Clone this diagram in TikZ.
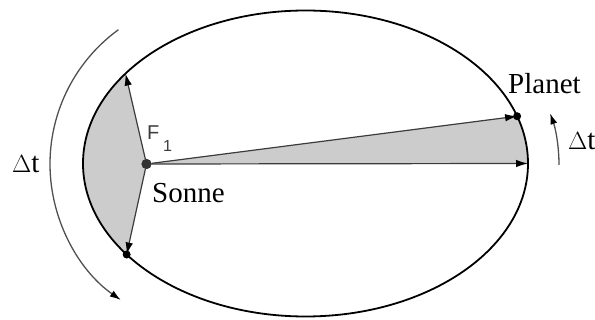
\documentclass[tikz,border=0pt]{standalone}
\usepackage{fontspec}
\setmainfont{Liberation Serif}
\newfontfamily\labelsans{Liberation Sans}
\usetikzlibrary{arrows.meta,calc}
\definecolor{sectorgray}{RGB}{204,204,204}
\definecolor{ray}{RGB}{60,60,60}
\definecolor{sunc}{RGB}{50,50,50}
\definecolor{arcc}{RGB}{80,80,80}
\tikzset{
  orbit/.style={line width=1.8pt,black},
  rayarrow/.style={line width=1.2pt,ray,-{Latex[length=12pt,width=7.5pt,color=black]}},
  timearrow/.style={line width=1.3pt,arcc,-{Latex[length=11pt,width=7pt,color=black]}},
  dotc/.style={circle,fill=black,inner sep=0pt,minimum size=8pt},
  sundot/.style={circle,fill=sunc,inner sep=0pt,minimum size=10pt},
  txt/.style={inner sep=0pt,anchor=base west,font=\fontsize{29pt}{30pt}\selectfont},
}
\begin{document}
\begin{tikzpicture}[x=1pt,y=-1pt]
\useasboundingbox (0,0) rectangle (595,320);
\coordinate (C) at (305.5,163.5);
\coordinate (Sc) at (146.5,164);
\coordinate (U) at ($(C)+(144:222.5pt and 153pt)$);
\coordinate (L) at ($(C)+(216.5:222.5pt and 153pt)$);
\coordinate (P) at ($(C)+(18:222.5pt and 153pt)$);
\coordinate (R) at ($(C)+(0:222.5pt and 153pt)$);
% shaded sectors
\fill[sectorgray] (Sc) -- (U) arc[start angle=144,end angle=216.5,x radius=222.5pt,y radius=153pt] -- cycle;
\fill[sectorgray] (Sc) -- (R) arc[start angle=0,end angle=18,x radius=222.5pt,y radius=153pt] -- cycle;
% orbit
\draw[orbit] (C) ellipse[x radius=222.5pt,y radius=153pt];
% sun
\node[sundot] (S) at (Sc) {};
% rays
\draw[rayarrow] (S) -- (U);
\draw[rayarrow] (S) -- (L);
\draw[rayarrow] (S) -- (P);
\draw[rayarrow] (S) -- (R);
% dots
\node[dotc] (Lp) at (L) {};
\node[dotc] (Pp) at (P) {};
\node[sundot] at (Sc) {};
% time arcs
\coordinate (A1) at ($(216,164)+(126:166pt)$);
\draw[timearrow] (A1) arc[start angle=126,end angle=235,radius=166pt];
\coordinate (A2) at (559,165);
\draw[timearrow] (A2) arc[start angle=0,end angle=19.5,radius=155pt];
% labels
\node[txt] (planet) at (508,94) {Planet};
\node[txt] (sonne) at (152,203) {Sonne};
\node[txt] (dtl) at (12,173) {$\Delta$t};
\node[txt] (dtr) at (568,150) {$\Delta$t};
\node[inner sep=0pt,anchor=base west,text=ray,font=\labelsans\fontsize{20pt}{20pt}\selectfont] (F) at (147,140) {F};
\node[inner sep=0pt,anchor=base west,text=ray,font=\labelsans\fontsize{16pt}{16pt}\selectfont] (F1) at (163,152) {1};
\end{tikzpicture}
\end{document}
